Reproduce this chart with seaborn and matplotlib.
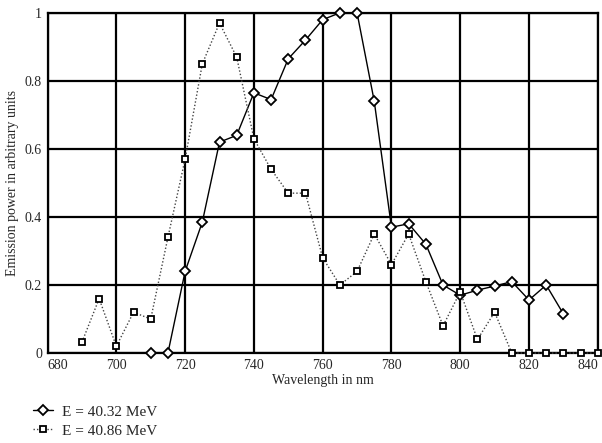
import numpy as np
import pandas as pd
import matplotlib
matplotlib.use('Agg')
import matplotlib.pyplot as plt
import seaborn as sns
from matplotlib.lines import Line2D

# E = 40.32 MeV (diamonds, solid line)
wl_a = [710, 715, 720, 725, 730, 735, 740, 745, 750, 755, 760, 765, 770,
        775, 780, 785, 790, 795, 800, 805, 810, 815, 820, 825, 830]
pw_a = [0.0, 0.0, 0.24, 0.385, 0.62, 0.64, 0.765, 0.745, 0.865, 0.92, 0.98,
        1.0, 1.0, 0.74, 0.37, 0.38, 0.32, 0.20, 0.17, 0.185, 0.197, 0.21,
        0.156, 0.20, 0.115]

# E = 40.86 MeV (squares, dotted line)
wl_b = [690, 695, 700, 705, 710, 715, 720, 725, 730, 735, 740, 745, 750,
        755, 760, 765, 770, 775, 780, 785, 790, 795, 800, 805, 810, 815,
        820, 825, 830, 835, 840]
pw_b = [0.032, 0.16, 0.02, 0.12, 0.10, 0.34, 0.57, 0.85, 0.97, 0.87, 0.63,
        0.54, 0.47, 0.47, 0.28, 0.20, 0.24, 0.35, 0.26, 0.35, 0.21, 0.08,
        0.18, 0.04, 0.12, 0.0, 0.0, 0.0, 0.0, 0.0, 0.0]

labels = ['E = 40.32 MeV', 'E = 40.86 MeV']
x_ticks = [680, 700, 720, 740, 760, 780, 800, 820, 840]
y_ticks = [0, 0.2, 0.4, 0.6, 0.8, 1]
y_tick_labels = ['0', '0.2', '0.4', '0.6', '0.8', '1']

df = pd.concat([
    pd.DataFrame({'wl': wl_a, 'pw': pw_a, 'series': labels[0]}),
    pd.DataFrame({'wl': wl_b, 'pw': pw_b, 'series': labels[1]}),
], ignore_index=True)

sns.set_style('white')
plt.rcParams['font.family'] = ['Liberation Serif', 'DejaVu Serif']

fig = plt.figure(figsize=(6.02, 4.43), dpi=100)
ax = fig.add_axes([0.079, 0.203, 0.914, 0.768])

sns.lineplot(data=df, x='wl', y='pw', hue='series', style='series',
             markers={labels[0]: 'D', labels[1]: 's'},
             dashes={labels[0]: '', labels[1]: (1, 1.5)},
             palette={labels[0]: 'black', labels[1]: '#444444'},
             linewidth=1.0, markersize=5, markerfacecolor='white',
             markeredgecolor='black', markeredgewidth=1.3,
             ax=ax, legend=False, clip_on=False, zorder=3)

ax.set_xlim(680, 840)
ax.set_ylim(0, 1)
ax.set_xticks(x_ticks)
ax.set_yticks(y_ticks)
ax.set_yticklabels(y_tick_labels)
ax.grid(True, color='black', linewidth=1.6)
ax.tick_params(length=0, labelsize=10, pad=4)
for sp in ax.spines.values():
    sp.set_edgecolor('black')
    sp.set_linewidth(1.6)

# keep end labels inside the figure like the original
xt = ax.get_xticklabels()
xt[0].set_ha('left')
xt[-1].set_ha('right')

ax.set_xlabel('Wavelength in nm', fontsize=10, labelpad=2)
ax.set_ylabel('Emission power in arbitrary units', fontsize=10, labelpad=4)

handles = [
    Line2D([], [], color='black', lw=1.0, marker='D', markersize=5,
           markerfacecolor='white', markeredgewidth=1.3),
    Line2D([], [], color='#444444', lw=1.0, ls=(0, (1, 1.5)), marker='s',
           markersize=5, markerfacecolor='white', markeredgecolor='black',
           markeredgewidth=1.3),
]
fig.legend(handles, labels, loc='upper left', bbox_to_anchor=(0.045, 0.1),
           frameon=False, fontsize=11, handlelength=1.3, handletextpad=0.6,
           labelspacing=0.35, borderaxespad=0)

fig.savefig('out.png', dpi=100)
